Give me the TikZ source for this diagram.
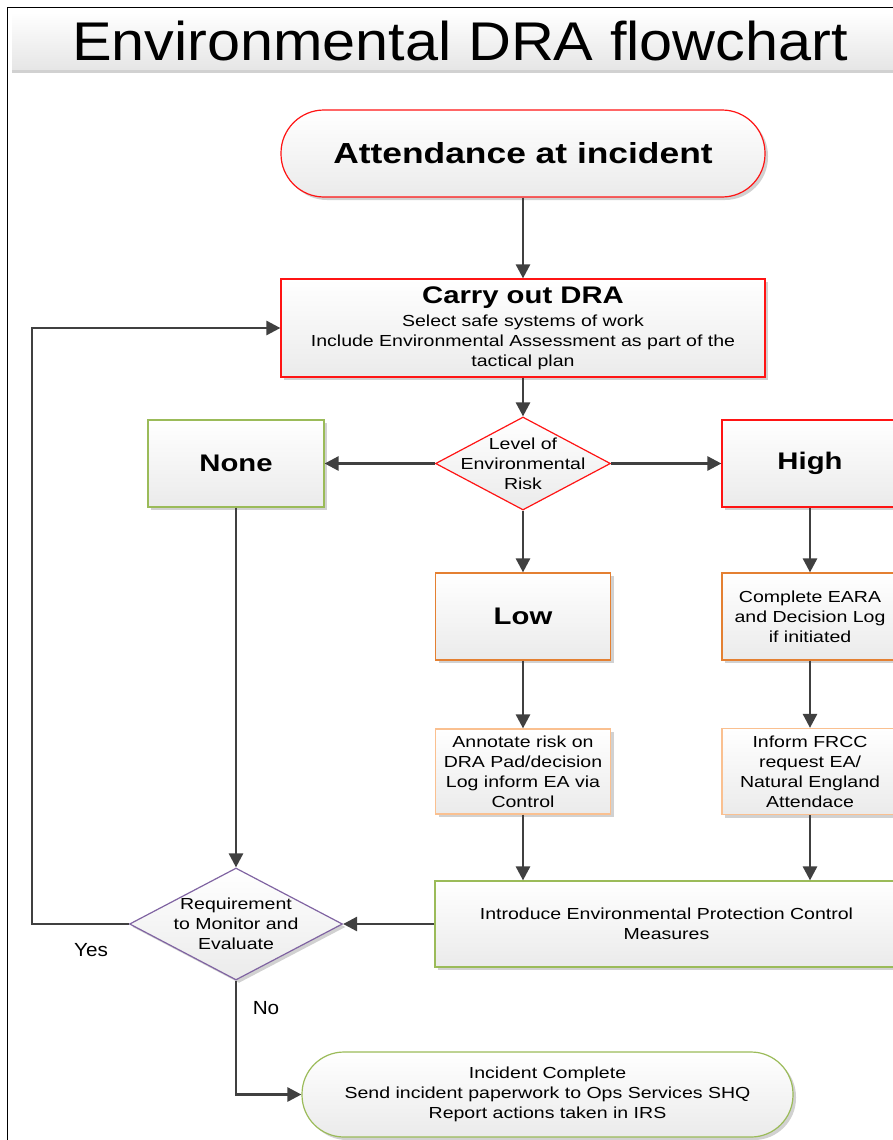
\documentclass[tikz,border=0pt]{standalone}
\usepackage{fontspec}
\setmainfont{Liberation Sans}[FakeStretch=1.22]
\newfontfamily\headfont{Liberation Sans}[FakeStretch=1.09]
\usetikzlibrary{positioning,shapes.geometric,arrows.meta,shadows}

\definecolor{riskred}{RGB}{255,20,20}
\definecolor{safegreen}{RGB}{155,187,89}
\definecolor{lowamber}{RGB}{228,128,50}
\definecolor{paleamber}{RGB}{250,192,144}
\definecolor{reviewpurple}{RGB}{128,100,162}
\definecolor{flowgrey}{RGB}{64,64,64}

\newcommand\bigbf{\fontsize{24}{28}\selectfont\bfseries}
\newcommand\boxfont{\fontsize{16}{20}\selectfont}

\tikzset{
  boxshadow/.style={drop shadow={shadow xshift=3pt, shadow yshift=-3pt, fill=black!18, opacity=1}},
  boxbase/.style={draw, line width=1.2pt, top color=white, bottom color=black!8,
    inner sep=0pt, align=center, font=\boxfont},
  terminal/.style={boxbase, boxshadow, rounded corners=43pt, minimum width=484pt, minimum height=87pt},
  process/.style={boxbase, boxshadow, minimum width=176pt, minimum height=87pt},
  decision/.style={boxbase, diamond},
  diatext/.style={align=center, font=\boxfont, inner sep=0pt},
  banner/.style={top color=white, bottom color=black!10, inner sep=0pt,
    minimum width=896pt, minimum height=58pt,
    drop shadow={shadow xshift=0pt, shadow yshift=-3pt, fill=black!18, opacity=1},
    font=\headfont\fontsize{54.5}{60}\selectfont},
  answer/.style={font=\headfont\fontsize{19}{22}\selectfont},
  flowline/.style={->, draw=flowgrey, line width=2.7pt}
}

\begin{document}
\begin{tikzpicture}[x=1pt, y=-1pt, on grid, >={Triangle[length=14pt,width=14pt]}]
  \useasboundingbox (0,0) rectangle (893,1140);
  \clip (0,0) rectangle (893,1140);
  \draw[line width=0.8pt] (7,7) rectangle (1000,1200);

  \node(heading)[banner] at (460,41) {Environmental DRA flowchart};

  \node(start)[terminal, draw=riskred, font=\fontsize{29}{34}\selectfont\bfseries] at (523,153.5) {Attendance at incident};
  \node(dra)[process, draw=riskred, minimum width=484pt, minimum height=98pt, below=174.5pt of start]
    {{\bigbf Carry out DRA}\\[3pt]Select safe systems of work\\Include Environmental Assessment as part of the\\tactical plan};
  \node(risk)[decision, draw=riskred, minimum width=175pt, minimum height=93pt, below=135.5pt of dra,
    label={[diatext]center:Level of\\Environmental\\Risk}] {};
  \node(none)[process, draw=safegreen, left=287pt of risk, font=\bigbf] {None};
  \node(high)[process, draw=riskred, right=287pt of risk, font=\bigbf] {High};
  \node(low)[process, draw=lowamber, minimum width=175pt, below=153pt of risk, font=\bigbf] {Low};
  \node(eara)[process, draw=lowamber, below=153pt of high] {Complete EARA\\and Decision Log\\if initiated};
  \node(annotate)[process, draw=paleamber, minimum width=175pt, minimum height=85pt, below=155pt of low]
    {Annotate risk on\\DRA Pad/decision\\Log inform EA via\\Control};
  \node(inform)[process, draw=paleamber, minimum height=86pt, below=155pt of eara]
    {Inform FRCC\\request EA/\\Natural England\\Attendace};
  \node(introduce)[process, draw=safegreen, minimum width=463pt, minimum height=86pt] at (666.5,924)
    {Introduce Environmental Protection Control\\Measures};
  \node(monitor)[decision, boxshadow, draw=reviewpurple, minimum width=213pt, minimum height=112pt, below=460.5pt of none,
    label={[diatext]center:Requirement\\to Monitor and\\Evaluate}] {};
  \node(done)[terminal, draw=safegreen, minimum width=491pt, minimum height=85pt, rounded corners=42pt] at (547.5,1094.5)
    {Incident Complete\\Send incident paperwork to Ops Services SHQ\\Report actions taken in IRS};
  \node(yes)[answer] at (91,950) {Yes};
  \node(no)[answer] at (266,1008) {No};
  \coordinate(yesline) at (32,600);

  \draw[flowline] (start) -- (dra);
  \draw[flowline] (dra) -- (risk);
  \draw[flowline] (risk) -- (none);
  \draw[flowline] (risk) -- (high);
  \draw[flowline] (risk) -- (low);
  \draw[flowline] (low) -- (annotate);
  \draw[flowline] (high) -- (eara);
  \draw[flowline] (eara) -- (inform);
  \draw[flowline] (annotate) -- (annotate |- introduce.north);
  \draw[flowline] (inform) -- (inform |- introduce.north);
  \draw[flowline] (introduce) -- (monitor);
  \draw[flowline] (none) -- (monitor);
  \draw[flowline] (monitor.west) -| (yesline) |- (dra.west);
  \draw[flowline] (monitor.south) |- (done.west);
\end{tikzpicture}
\end{document}
